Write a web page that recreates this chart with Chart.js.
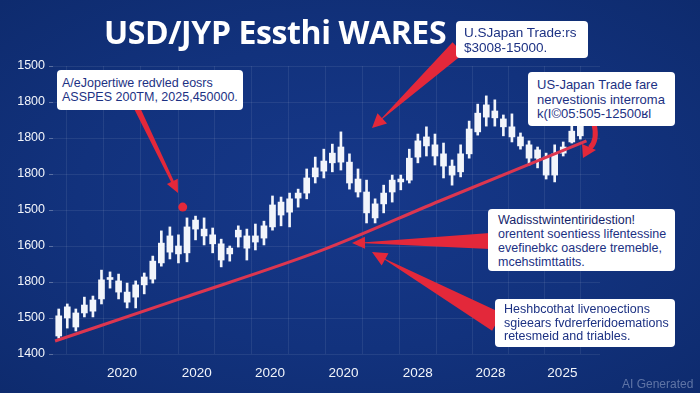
<!DOCTYPE html>
<html>
<head>
<meta charset="utf-8">
<script src="https://cdn.jsdelivr.net/npm/chart.js@4.4.1/dist/chart.umd.min.js"></script>
<style>
  html, body { margin: 0; padding: 0; }
  body { width: 700px; height: 393px; overflow: hidden; }
  #wrap {
    position: relative; width: 700px; height: 393px;
    background: radial-gradient(ellipse at 50% 50%, #16388a 0%, #12327d 55%, #0e2b6e 100%);
    font-family: "Liberation Sans", Arial, sans-serif;
  }
  #wrap canvas { position: absolute; left: 0; top: 0; }
  .title {
    position: absolute; left: 104px; top: 10px; color: #fff;
    font: 700 32px "Open Sans", sans-serif; white-space: nowrap; letter-spacing: -0.4px;
  }
  .note {
    position: absolute; background: #fff; border-radius: 4px; color: #1c3183;
    font-size: 12.5px; line-height: 14px; white-space: nowrap; box-sizing: border-box;
    overflow: hidden;
  }
  .mark {
    position: absolute; left: 622px; top: 377px; font-size: 12px;
    color: rgba(190, 202, 228, 0.45); white-space: nowrap;
  }
</style>
</head>
<body>
<div id="wrap">
  <canvas id="fxChart" width="700" height="393"></canvas>
  <div class="title">USD/JYP Essthi WARES</div>
  <div class="note" style="left:57px;top:70px;width:186px;height:40px;padding:6px 0 0 5px;">
    A/eJopertiwe redvled eosrs<br>ASSPES 200TM, 2025,450000.
  </div>
  <div class="note" style="left:456px;top:21px;width:132px;height:37px;padding:4px 0 0 8px;font-size:13.5px;line-height:15px;">
    U.SJapan Trade:rs<br>$3008-15000.
  </div>
  <div class="note" style="left:528px;top:72px;width:147px;height:54px;padding:6px 0 0 9px;font-size:13px;line-height:14.5px;">
    US-Japan Trade fare<br>nervestionis interroma<br>k(I©05:505-12500ʁl
  </div>
  <div class="note" style="left:488px;top:209px;width:187px;height:62px;padding:4px 0 0 10px;">
    <span style="color:#14246b">Wadisstwintentiridestion!</span><br>orentent soentiess lifentessine<br>evefinebkc oasdere tremeble,<br>mcehstimttatits.
  </div>
  <div class="note" style="left:495px;top:299px;width:180px;height:48px;padding:4px 0 0 9px;line-height:13.5px;">
    Heshbcothat livenoections<br>sgieears fvdrerferidoemations<br>retesmeid and triables.
  </div>
  <div class="mark">AI Generated</div>
</div>
<script>
// candle values (axis units: one step per y tick)
const opens  = [0.50, 1.00, 0.75, 1.14, 1.19, 1.53, 2.07, 1.72, 1.44, 1.58, 1.92, 2.08, 2.53, 2.83, 2.78, 2.81,
                3.47, 3.28, 3.06, 2.61, 2.78, 3.25, 2.94, 3.11, 3.22, 3.53, 3.86, 3.94, 4.33, 4.47, 4.92,
                5.08, 5.31, 5.33, 4.75, 4.50, 3.92, 3.78, 4.17, 4.50, 4.78, 4.83, 5.47, 5.78, 5.50, 5.22,
                4.97, 5.06, 5.56, 6.17, 6.58, 6.56, 6.31, 6.03, 5.78, 5.44, 5.44, 4.97, 4.97, 5.58, 5.89, 6.06];
const closes = [1.06, 1.31, 1.14, 1.36, 1.50, 2.06, 2.11, 2.03, 1.72, 1.92, 2.14, 2.58, 3.08, 3.28, 3.00, 3.53,
                3.72, 3.47, 3.31, 3.06, 2.94, 3.44, 3.28, 3.28, 3.56, 4.14, 4.22, 4.31, 4.47, 4.89, 5.17,
                5.36, 5.58, 5.75, 5.33, 4.86, 4.50, 4.17, 4.47, 4.83, 4.86, 5.44, 5.92, 6.03, 5.81, 5.56,
                5.22, 5.56, 6.25, 6.69, 6.92, 6.75, 6.53, 6.31, 6.03, 5.81, 5.67, 5.47, 5.56, 5.75, 6.19, 6.36];
const highs  = [1.25, 1.39, 1.25, 1.58, 1.61, 2.33, 2.28, 2.22, 1.97, 2.03, 2.25, 2.72, 3.42, 3.53, 3.31, 3.78,
                3.83, 3.78, 3.50, 3.19, 3.00, 3.56, 3.47, 3.61, 3.69, 4.39, 4.36, 4.47, 4.58, 5.14, 5.47,
                5.69, 5.83, 6.17, 5.56, 5.14, 4.83, 4.31, 4.69, 4.97, 4.97, 5.69, 6.11, 6.31, 6.11, 5.86,
                5.39, 5.81, 6.47, 6.94, 7.17, 7.06, 6.64, 6.67, 6.14, 5.92, 5.75, 5.58, 5.81, 5.89, 6.39, 6.44];
const lows   = [0.44, 0.72, 0.64, 1.03, 1.03, 1.39, 1.83, 1.53, 1.28, 1.28, 1.67, 1.97, 2.44, 2.64, 2.53, 2.56,
                3.17, 3.03, 2.81, 2.42, 2.58, 2.97, 2.61, 2.89, 3.03, 3.44, 3.56, 3.53, 4.08, 4.31, 4.75,
                4.89, 5.06, 5.11, 4.58, 4.36, 3.64, 3.64, 3.92, 4.22, 4.56, 4.75, 5.31, 5.50, 5.25, 4.89,
                4.69, 4.92, 5.44, 6.08, 6.33, 6.33, 6.06, 5.89, 5.69, 5.25, 5.17, 4.86, 4.78, 5.50, 5.86, 5.97];

// rising trend line and highlighted point
const trendX = [-0.43, 14.17, 30.88, 44.54, 61.72];
const trendY = [0.36, 1.53, 2.89, 4.25, 5.92];
const markX = [14.5];
const markY = [4.08];

// axis labels
const yTickLabels = ['1400', '1500', '1800', '1600', '1500', '1800', '1800', '1800', '1500'];
const xGridPos = [3.1, 7.4, 11.8, 16.15, 20.4, 24.7, 29, 33.3, 37.7, 42, 46.3, 50.5, 54.7, 58.9, 63.1];
const xTickLabels = ['', '2020', '', '2020', '', '2020', '', '2020', '', '2028', '', '2028', '', '2025', ''];

const white = '#f2f5fb';
const red = '#e3283a';
const gridColor = 'rgba(255,255,255,0.08)';

const periods = opens.map((_, i) => i);

function wedgeArrow(ctx, x0, y0, x1, y1, w0, w1, headLen, headW) {
    const a = Math.atan2(y1 - y0, x1 - x0);
    const len = Math.hypot(x1 - x0, y1 - y0);
    ctx.save();
    ctx.translate(x0, y0);
    ctx.rotate(a);
    ctx.beginPath();
    ctx.moveTo(0, -w0 / 2);
    ctx.lineTo(len - headLen, -w1 / 2);
    ctx.lineTo(len - headLen, -headW / 2);
    ctx.lineTo(len, 0);
    ctx.lineTo(len - headLen, headW / 2);
    ctx.lineTo(len - headLen, w1 / 2);
    ctx.lineTo(0, w0 / 2);
    ctx.closePath();
    ctx.fill();
    ctx.restore();
}

const arrows = {
    id: 'arrows',
    afterDatasetsDraw(chart) {
        const ctx = chart.ctx;
        ctx.save();
        ctx.fillStyle = red;
        ctx.strokeStyle = red;
        wedgeArrow(ctx, 137, 108, 178, 193, 6, 3, 13, 12);
        wedgeArrow(ctx, 458, 48, 372, 128, 16, 1, 14, 14);
        wedgeArrow(ctx, 490, 241, 352, 243, 16, 1, 13, 12);
        wedgeArrow(ctx, 497, 322, 372, 252, 20, 1, 15, 14);
        // curved arrow from the upper right note
        ctx.lineWidth = 5;
        ctx.beginPath();
        ctx.moveTo(594, 124);
        ctx.quadraticCurveTo(598, 140, 590, 148);
        ctx.stroke();
        ctx.beginPath();
        ctx.moveTo(583, 158);
        ctx.lineTo(582, 144);
        ctx.lineTo(596, 150);
        ctx.closePath();
        ctx.fill();
        ctx.restore();
    }
};

new Chart(document.getElementById('fxChart'), {
    type: 'bar',
    data: {
        datasets: [
            {
                label: 'wick',
                data: periods.map((i) => ({ x: i, y: [lows[i], highs[i]] })),
                backgroundColor: white,
                barThickness: 2,
                grouped: false,
                order: 3
            },
            {
                label: 'body',
                data: periods.map((i) => ({ x: i, y: [opens[i], closes[i]] })),
                backgroundColor: white,
                barThickness: 6,
                minBarLength: 2,
                grouped: false,
                order: 2
            },
            {
                type: 'line',
                label: 'trend',
                data: trendX.map((x, i) => ({ x: x, y: trendY[i] })),
                borderColor: '#dc3650',
                borderWidth: 3,
                pointRadius: 0,
                cubicInterpolationMode: 'monotone',
                order: 1
            },
            {
                type: 'scatter',
                label: 'mark',
                data: markX.map((x, i) => ({ x: x, y: markY[i] })),
                backgroundColor: red,
                borderWidth: 0,
                pointRadius: 4.5,
                order: 0
            }
        ]
    },
    options: {
        responsive: false,
        animation: false,
        layout: { padding: { top: 66, right: 100, left: 0, bottom: 0 } },
        plugins: {
            legend: { display: false },
            tooltip: { enabled: false }
        },
        scales: {
            x: {
                type: 'linear',
                min: -0.67,
                max: 63.3,
                offset: false,
                afterBuildTicks: (axis) => { axis.ticks = xGridPos.map((v) => ({ value: v })); },
                afterFit: (axis) => { axis.height = 39; },
                ticks: {
                    autoSkip: false,
                    maxRotation: 0,
                    padding: 11,
                    color: white,
                    font: { family: '"Liberation Sans", Arial, sans-serif', size: 13.5 },
                    callback: (v, i) => xTickLabels[i]
                },
                grid: { color: gridColor, drawTicks: false },
                border: { display: false }
            },
            y: {
                min: 0,
                max: 8,
                afterFit: (axis) => { axis.width = 53; },
                ticks: {
                    stepSize: 1,
                    padding: 4,
                    color: white,
                    font: { family: '"Liberation Sans", Arial, sans-serif', size: 12.5 },
                    callback: (v) => yTickLabels[v]
                },
                grid: { color: gridColor, tickLength: 4, tickColor: 'rgba(255,255,255,0.3)' },
                border: { display: false }
            }
        }
    },
    plugins: [arrows]
});
</script>
</body>
</html>
